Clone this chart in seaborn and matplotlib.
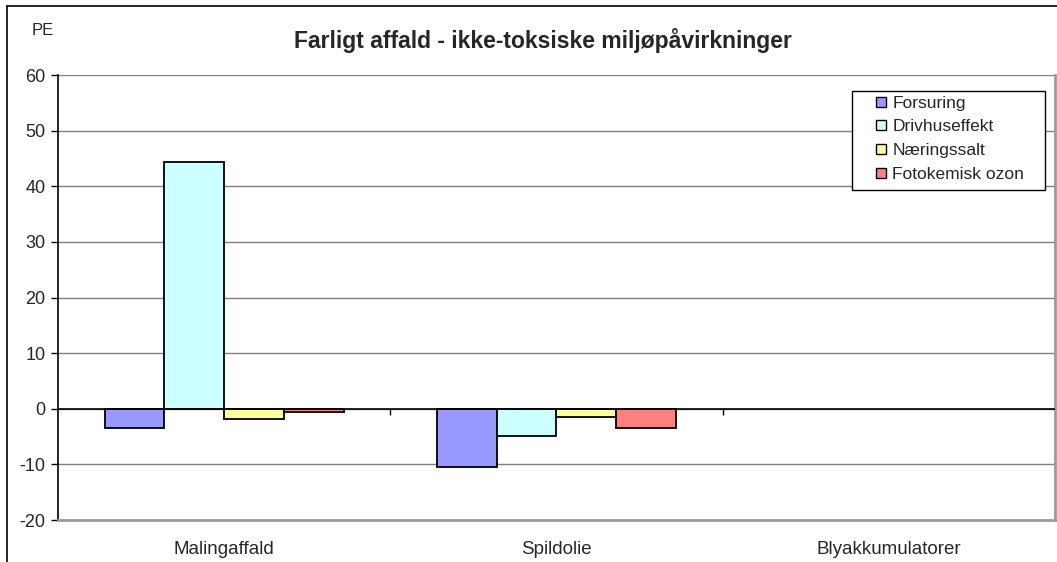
import pandas as pd
import matplotlib.pyplot as plt
import seaborn as sns
from matplotlib.lines import Line2D
from matplotlib.patches import Rectangle

categories = ["Malingaffald", "Spildolie", "Blyakkumulatorer"]
forsuring = [-3.4, -10.4, None]
drivhuseffekt = [44.3, -4.9, None]
naeringssalt = [-1.9, -1.5, None]
fotokemisk = [-0.6, -3.4, None]
series = ["Forsuring", "Drivhuseffekt", "Næringssalt", "Fotokemisk ozon"]
colors = ["#9999FF", "#CCFFFF", "#FFFF99", "#FF8080"]
yticks = [-20, -10, 0, 10, 20, 30, 40, 50, 60]

rows = []
for name, vals in zip(series, [forsuring, drivhuseffekt, naeringssalt, fotokemisk]):
    for cat, v in zip(categories, vals):
        rows.append({"kategori": cat, "serie": name, "PE": v})
df = pd.DataFrame(rows).dropna()

sns.set_style("white")
plt.rcParams["font.family"] = ["Liberation Sans", "DejaVu Sans"]

fig = plt.figure(figsize=(10.57, 5.62), dpi=100)
ax = fig.add_axes([0.0549, 0.0747, 0.9431, 0.7918])

sns.barplot(data=df, x="kategori", y="PE", hue="serie", order=categories,
            hue_order=series, palette=colors, width=0.72, gap=0,
            edgecolor="black", linewidth=1.3, saturation=1, ax=ax, zorder=3)

ax.set_ylim(-20, 60)
ax.set_xlim(-0.5, 2.5)
ax.set_yticks(yticks)
ax.set_yticklabels([str(t) for t in yticks], fontsize=13)
for t in yticks[1:]:
    ax.axhline(t, color="#808080", lw=1, zorder=1)
ax.axhline(0, color="black", lw=1.2, zorder=4)

ax.set_xlabel("")
ax.set_ylabel("")
ax.set_xticks(range(len(categories)))
ax.set_xticklabels(categories, fontsize=13.5)
ax.tick_params(axis="x", length=0, pad=15)
ax.tick_params(axis="y", left=True, length=5, width=1, color="black", pad=4)

ax.spines["top"].set_visible(False)
ax.spines["left"].set_color("black")
ax.spines["left"].set_linewidth(1.2)
ax.spines["right"].set_color("#9a9a9a")
ax.spines["right"].set_linewidth(2)
ax.spines["bottom"].set_color("#9a9a9a")
ax.spines["bottom"].set_linewidth(2)

# category tick marks on the zero line
sec = ax.secondary_xaxis(0.25)
sec.set_xticks([0.5, 1.5])
sec.set_xticklabels([])
sec.tick_params(length=4, width=1, color="black")
sec.spines["bottom"].set_visible(False)

# legend: square markers inside a plain black box
ax.get_legend().remove()
ax.add_patch(Rectangle((0.7964, 0.7416), 0.1936, 0.2224, transform=ax.transAxes,
                       facecolor="white", edgecolor="black", lw=1, zorder=6))
handles = [Line2D([], [], linestyle="", marker="s", markersize=7.5,
                  markerfacecolor=c, markeredgecolor="black", markeredgewidth=1)
           for c in colors]
leg = ax.legend(handles, series, loc="upper left", bbox_to_anchor=(0.8168, 0.954),
                fontsize=12.5, frameon=False, handlelength=1.0, handletextpad=0.15,
                labelspacing=0.5, borderpad=0, borderaxespad=0)
leg.set_zorder(7)

fig.text(0.514, 0.928, "Farligt affald - ikke-toksiske miljøpåvirkninger",
         ha="center", va="center", fontsize=16.5, fontweight="bold")
fig.text(0.040, 0.945, "PE", ha="center", va="center", fontsize=12)

fig.add_artist(Line2D([0.0066, 0.0066], [0, 0.989], color="black", lw=1.2))
fig.add_artist(Line2D([0.0066, 1.0], [0.989, 0.989], color="black", lw=1.2))

fig.savefig("out.png", dpi=100)
